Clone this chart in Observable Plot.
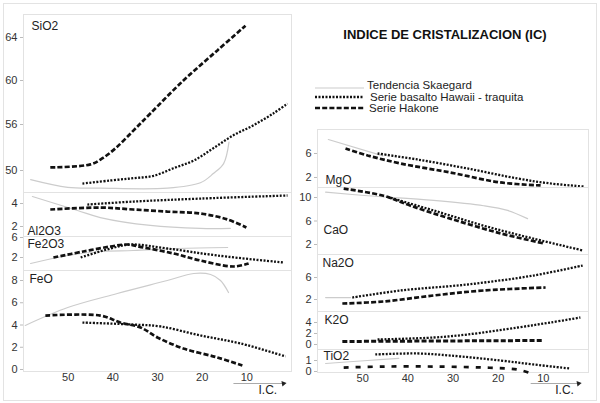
<!DOCTYPE html>
<html><head><meta charset="utf-8">
<script src="https://cdn.jsdelivr.net/npm/d3@7"></script>
<script src="https://cdn.jsdelivr.net/npm/@observablehq/plot@0.6"></script>
<style>
body{margin:0;background:#fff;}
#wrap{position:relative;width:600px;height:403px;overflow:hidden;font-family:"Liberation Sans",Arial,sans-serif;}
#wrap svg{position:absolute;left:0;top:0;}
#border{position:absolute;left:3px;top:3px;width:592px;height:396px;border:1px solid #e3e3e3;}
#title{position:absolute;left:300px;width:290px;top:27px;text-align:center;font-weight:bold;font-size:13px;color:#111;}
</style></head>
<body><div id="wrap"><div id="border"></div><div id="title">INDICE DE CRISTALIZACION (IC)</div></div>
<script>
// ---- data: [IC, wt%] ----
const icTicks = [50, 40, 30, 20, 10];
const seriesNames = ["Tendencia Skaegard", "Serie basalto Hawaii - traquita", "Serie Hakone"];

// the printed SiO2 axis is not evenly spaced: tick values and their relative heights
const sio2TickValues = [50, 56, 60, 64];
const sio2TickHeights = [22, 68, 112, 155];

const sio2Skaergaard = [[58.4,48.8],[50.1,47.8],[42.8,47.7],[27.8,47.7],[20.4,48.4],[17.5,49.6],[15.2,50.9],[14.0,53.7]];
const sio2Hawaii = [[46.8,48.3],[40.5,48.7],[35.4,49.0],[30.9,49.3],[26.4,50.3],[21.9,51.3],[17.5,52.9],[13.0,54.6],[8.5,55.9],[4.1,57.0],[0.9,57.9]];
const sio2Hakone = [[54.0,50.4],[45.0,50.8],[42.3,51.6],[39.4,52.9],[35.4,55.2],[31.6,57.0],[24.2,60.0],[16.6,62.8],[10.3,65.1]];

const al2o3Skaergaard = [[58.0,4.61],[47.9,3.39],[42.8,2.78],[31.6,2.09],[20.4,1.83],[13.7,1.83]];
const al2o3Hawaii = [[45.7,3.91],[35.4,4.17],[20.4,4.43],[0.9,4.70]];
const al2o3Hakone = [[54.0,3.48],[42.8,3.65],[35.4,3.48],[27.8,3.30],[20.4,3.13],[14.3,2.61],[10.1,1.91]];

const fe2o3Skaergaard = [[58.4,0.8],[50.1,2.4],[42.8,3.2],[35.4,3.4],[25.5,3.8],[14.3,4.0]];
const fe2o3Hawaii = [[47.2,2.0],[40.5,3.8],[36.0,4.6],[27.8,3.8],[16.6,2.4],[1.8,1.0]];
const fe2o3Hakone = [[53.3,2.0],[46.6,3.2],[40.5,4.2],[36.7,4.6],[33.1,4.0],[26.4,2.8],[20.4,1.4],[13.0,0.2],[9.6,0.8]];

const feoSkaergaard = [[59.6,3.96],[50.1,5.57],[39.0,6.83],[27.8,8.0],[21.9,8.63],[18.1,8.54],[15.9,8.0],[14.1,6.92]];
const feoHawaii = [[46.8,4.22],[35.4,4.04],[29.3,3.87],[20.4,3.06],[11.4,2.34],[1.3,1.17]];
const feoHakone = [[55.1,4.85],[42.8,4.85],[38.3,4.22],[33.8,3.78],[30.0,2.88],[24.2,1.89],[16.6,1.08],[11.0,0.36]];

const mgoSkaergaard = [[57.6,8.33],[45.5,5.6]];
const mgoHawaii = [[46.7,6.0],[37.9,5.0],[26.8,3.5],[15.7,1.83],[8.4,1.0],[1.1,0.5]];
const mgoHakone = [[53.8,6.83],[48.9,5.67],[41.6,4.33],[30.6,2.83],[19.5,1.17],[10.6,0.67]];

const caoSkaergaard = [[58.2,10.9],[48.9,10.3],[34.3,9.5],[23.2,8.6],[17.9,7.8],[13.5,6.4]];
const caoHawaii = [[44.5,10.1],[34.3,7.8],[23.2,5.2],[12.2,3.0],[1.3,1.0]];
const caoHakone = [[54.2,11.5],[45.4,10.3],[39.4,8.6],[30.6,6.4],[19.5,3.9],[10.0,2.2]];

const na2oSkaergaard = [[58.2,2.36],[52.7,2.36]];
const na2oHawaii = [[52.3,2.36],[41.6,3.64],[26.8,4.73],[12.2,6.36],[1.3,8.18]];
const na2oHakone = [[54.5,1.27],[45.4,1.64],[34.3,2.73],[23.2,3.64],[9.5,4.18]];

const k2oSkaergaard = [];
const k2oHawaii = [[46.7,0.91],[34.3,1.27],[26.8,1.82],[15.7,3.09],[8.4,4.0],[1.8,4.91]];
const k2oHakone = [[54.5,0.55],[10.2,0.73]];

const tio2Skaergaard = [[58.2,0.73],[48.9,1.0],[42.0,1.2]];
const tio2Hawaii = [[47.2,1.55],[37.9,1.64],[30.6,1.45],[19.5,1.0],[12.2,0.64],[4.0,0.27]];
const tio2Hakone = [[54.2,0.36],[45.4,0.45],[34.3,0.45],[23.2,0.36],[15.7,0.18],[13.3,-0.09]];

// axis annotation "I.C." arrow, in [IC, value] of the bottom panel
const leftArrow = {x1: 13.0, x2: 1.8, y: -1.26, tx: 5.3, ty: -1.9};
const rightArrow = {x1: 12.8, x2: 2.2, y: -1.09, tx: 5.3, ty: -1.73};

// ---- drawing ----
const FONT = "Liberation Sans, Arial, sans-serif";
const wrap = document.getElementById("wrap");
const sio2Warp = d3.scaleLinear().domain(sio2TickValues).range(sio2TickHeights);

function panel(o) {
  const X = d => d[0];
  const warp = o.warp || (v => v);
  const Y = d => warp(d[1]);
  const marks = [
    Plot.frame({stroke: "#e2e2e2"}),
    Plot.axisY({ticks: o.ticks.map(warp), tickFormat: o.tickFormat || (d => String(d)),
      tickSize: 3, tickPadding: 3, fontSize: 11, color: "#333", label: null}),
    Plot.line(o.sk, {x: X, y: Y, stroke: "#cccccc", strokeWidth: 1.2, curve: "catmull-rom"}),
    Plot.line(o.hw, {x: X, y: Y, stroke: "#111", strokeWidth: 2.3, strokeDasharray: "2,1.5",
      strokeLinecap: "butt", strokeLinejoin: "miter", curve: "catmull-rom"}),
    Plot.line(o.hk, {x: X, y: Y, stroke: "#111", strokeWidth: o.hkW || 2.7, strokeDasharray: o.hkDash || "5,2.2",
      strokeLinecap: "butt", strokeLinejoin: "miter", curve: "catmull-rom"}),
    Plot.text([o.label], {frameAnchor: o.anchor, textAnchor: "start", lineAnchor: o.lineAnchor || "top",
      dx: o.dx, dy: o.dy, fontSize: 12, fill: "#222"})
  ];
  if (o.arrow) {
    const a = o.arrow;
    marks.push(
      Plot.axisX({ticks: icTicks, tickSize: 0, tickPadding: 2, fontSize: 11, color: "#333", label: null}),
      Plot.link([a], {x1: "x1", x2: "x2", y1: "y", y2: "y", stroke: "#aaa", strokeWidth: 1}),
      Plot.dot([a], {x: "x2", y: "y", symbol: "triangle2", rotate: 80, r: 2.6, fill: "#222", stroke: null}),
      Plot.text([a], {x: "tx", y: "ty", text: () => "I.C.", fontSize: 12, fill: "#222"})
    );
  }
  const svg = Plot.plot({
    width: 600, height: 403,
    marginLeft: o.x0, marginRight: 600 - o.x1, marginTop: o.top, marginBottom: 403 - o.bottom,
    x: {domain: [60, 0], axis: o.arrow ? undefined : null},
    y: {domain: o.yDomain},
    clip: false,
    style: {background: "transparent", fontFamily: FONT, overflow: "visible"},
    marks
  });
  svg.style.position = "absolute"; svg.style.left = "0px"; svg.style.top = "0px";
  svg.querySelectorAll('[aria-label="y-axis tick"]').forEach(g => g.setAttribute("stroke", "#bbb"));
  wrap.appendChild(svg);
}

// left column
panel({x0: 23, x1: 291, top: 14, bottom: 192, yDomain: [0, 178], warp: sio2Warp,
  tickFormat: d => String(Math.round(sio2Warp.invert(d))),
  ticks: sio2TickValues, sk: sio2Skaergaard, hw: sio2Hawaii, hk: sio2Hakone, label: "SiO2", anchor: "top-left", dx: 8, dy: 7});
panel({x0: 23, x1: 291, top: 192, bottom: 236, yDomain: [1.13, 4.96], ticks: [2, 4],
  sk: al2o3Skaergaard, hw: al2o3Hawaii, hk: al2o3Hakone, label: "Al2O3", anchor: "bottom-left", lineAnchor: "bottom", dx: 4, dy: -2});
panel({x0: 23, x1: 291, top: 236, bottom: 270, yDomain: [-0.6, 6.2], ticks: [2, 6],
  sk: fe2o3Skaergaard, hw: fe2o3Hawaii, hk: fe2o3Hakone, label: "Fe2O3", anchor: "top-left", dx: 4, dy: 3});
panel({x0: 23, x1: 291, top: 270, bottom: 371, yDomain: [-0.18, 8.9], ticks: [0, 2, 4, 6, 8],
  sk: feoSkaergaard, hw: feoHawaii, hk: feoHakone, label: "FeO", anchor: "top-left", dx: 6, dy: 4, arrow: leftArrow});

// right column
panel({x0: 317, x1: 588, top: 129, bottom: 187, yDomain: [0.33, 10], ticks: [2, 6],
  sk: mgoSkaergaard, hw: mgoHawaii, hk: mgoHakone, label: "MgO", anchor: "bottom-left", lineAnchor: "bottom", dx: 8, dy: -4});
panel({x0: 317, x1: 588, top: 187, bottom: 254, yDomain: [0.3, 11.7], ticks: [2, 6, 10],
  sk: caoSkaergaard, hw: caoHawaii, hk: caoHakone, label: "CaO", anchor: "left", lineAnchor: "middle", dx: 6, dy: 9});
panel({x0: 317, x1: 588, top: 254, bottom: 311, yDomain: [-0.18, 10.18], ticks: [2, 6],
  sk: na2oSkaergaard, hw: na2oHawaii, hk: na2oHakone, label: "Na2O", anchor: "top-left", dx: 5, dy: 4});
panel({x0: 317, x1: 588, top: 311, bottom: 349, yDomain: [-0.91, 6.0], ticks: [0, 2, 4],
  sk: k2oSkaergaard, hw: k2oHawaii, hk: k2oHakone, hkW: 3, label: "K2O", anchor: "top-left", dx: 7, dy: 4});
panel({x0: 317, x1: 588, top: 349, bottom: 372, yDomain: [-0.09, 2.0], ticks: [0, 1],
  sk: tio2Skaergaard, hw: tio2Hawaii, hk: tio2Hakone, hkDash: "5,7", label: "TiO2", anchor: "top-left", dx: 6, dy: 2, arrow: rightArrow});

// legend
const lg = d3.create("svg").attr("width", 600).attr("height", 403)
  .style("position", "absolute").style("left", "0px").style("top", "0px");
const legendRows = [
  {name: seriesNames[0], y: 88, ty: 85, tx: 367, stroke: "#cccccc", w: 1.2, dash: null},
  {name: seriesNames[1], y: 97, ty: 97, tx: 370, stroke: "#111", w: 2.3, dash: "2,1.5"},
  {name: seriesNames[2], y: 108, ty: 108, tx: 369, stroke: "#111", w: 2.7, dash: "5,2.2"}
];
for (const r of legendRows) {
  lg.append("line").attr("x1", 315).attr("x2", 364).attr("y1", r.y).attr("y2", r.y)
    .attr("stroke", r.stroke).attr("stroke-width", r.w).attr("stroke-dasharray", r.dash);
  lg.append("text").attr("x", r.tx).attr("y", r.ty).attr("dy", "0.35em")
    .attr("font-family", FONT).attr("font-size", 11.5).attr("fill", "#222").text(r.name);
}
wrap.appendChild(lg.node());
</script></body></html>
